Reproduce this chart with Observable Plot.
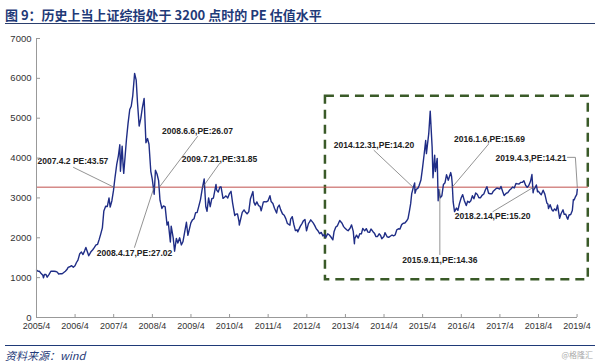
<!DOCTYPE html>
<html><head><meta charset="utf-8">
<script src="https://cdn.jsdelivr.net/npm/d3@7"></script>
<script src="https://cdn.jsdelivr.net/npm/@observablehq/plot@0.6"></script>
<style>
body{margin:0;background:#fff;width:600px;height:364px;overflow:hidden}
#title{font:bold 13px "Noto Sans CJK SC",sans-serif;color:#1f3a78;margin:0 5px;padding-top:7px;height:16px;line-height:16px;border-bottom:1.5px solid #2b3f6e}
#chart{margin-top:3px;height:314px}
#foot{margin:4px 5px 0;border-top:1.5px solid #1f3a78;position:relative;height:18px}
#src{position:absolute;left:0;top:2px;font:italic 11px "Noto Sans CJK SC",sans-serif;color:#1f3a78;line-height:14px}
#wm{position:absolute;right:2px;top:4px;font:8px "Noto Sans CJK SC",sans-serif;color:#aaa;line-height:10px}
</style></head>
<body>
<div id="title">图 9：历史上当上证综指处于 3200 点时的 PE 估值水平</div>
<div id="chart"></div>
<div id="foot"><span id="src">资料来源：wind</span><span id="wm">@格隆汇</span></div>
<script>
const dates = [
"2005-04-01","2005-04-15","2005-04-29","2005-05-13","2005-05-31","2005-06-06","2005-06-15","2005-06-30","2005-07-11","2005-07-29","2005-08-15","2005-08-31","2005-09-15","2005-09-30","2005-10-14","2005-10-28","2005-11-15","2005-11-30","2005-12-15","2005-12-30",
"2006-01-16","2006-01-25","2006-02-15","2006-02-28","2006-03-15","2006-03-31","2006-04-14","2006-04-28","2006-05-15","2006-05-31","2006-06-15","2006-06-30","2006-07-12","2006-07-31","2006-08-08","2006-08-31","2006-09-15","2006-09-29","2006-10-16","2006-10-31","2006-11-15","2006-11-30","2006-12-15","2006-12-29",
"2007-01-15","2007-01-31","2007-02-16","2007-02-27","2007-03-15","2007-03-30","2007-04-13","2007-04-30","2007-05-15","2007-05-29","2007-06-04","2007-06-20","2007-06-29","2007-07-05","2007-07-31","2007-08-15","2007-08-31","2007-09-14","2007-09-28","2007-10-16","2007-10-31","2007-11-12","2007-11-28","2007-12-14","2007-12-28",
"2008-01-14","2008-01-31","2008-02-15","2008-02-29","2008-03-17","2008-03-31","2008-04-18","2008-04-30","2008-05-15","2008-05-30","2008-06-12","2008-06-30","2008-07-15","2008-07-31","2008-08-18","2008-08-29","2008-09-18","2008-09-26","2008-10-15","2008-10-28","2008-11-14","2008-11-28","2008-12-15","2008-12-31",
"2009-01-15","2009-02-17","2009-03-03","2009-03-31","2009-04-15","2009-04-30","2009-05-15","2009-05-29","2009-06-15","2009-06-30","2009-07-15","2009-08-04","2009-08-19","2009-08-31","2009-09-15","2009-09-30","2009-10-15","2009-10-30","2009-11-24","2009-11-30","2009-12-15","2009-12-31",
"2010-01-11","2010-01-29","2010-02-12","2010-02-26","2010-03-15","2010-03-31","2010-04-15","2010-04-30","2010-05-20","2010-05-31","2010-06-15","2010-06-30","2010-07-02","2010-07-30","2010-08-16","2010-08-31","2010-09-15","2010-09-30","2010-10-15","2010-11-08","2010-11-17","2010-11-30","2010-12-15","2010-12-31",
"2011-01-14","2011-01-25","2011-02-15","2011-02-28","2011-03-15","2011-03-31","2011-04-18","2011-04-29","2011-05-16","2011-05-31","2011-06-20","2011-06-30","2011-07-15","2011-07-29","2011-08-15","2011-08-31","2011-09-15","2011-09-30","2011-10-24","2011-10-31","2011-11-15","2011-11-30","2011-12-15","2011-12-30",
"2012-01-06","2012-01-31","2012-02-15","2012-02-29","2012-03-14","2012-03-29","2012-04-16","2012-04-27","2012-05-08","2012-05-31","2012-06-15","2012-06-29","2012-07-13","2012-07-31","2012-08-15","2012-08-31","2012-09-14","2012-09-26","2012-10-15","2012-10-31","2012-11-15","2012-12-03","2012-12-14","2012-12-31",
"2013-01-15","2013-02-06","2013-02-28","2013-03-15","2013-03-29","2013-04-15","2013-04-26","2013-05-15","2013-05-29","2013-06-14","2013-06-25","2013-06-28","2013-07-15","2013-07-31","2013-08-15","2013-08-30","2013-09-12","2013-09-30","2013-10-15","2013-10-31","2013-11-15","2013-11-29","2013-12-16","2013-12-31",
"2014-01-15","2014-01-30","2014-02-14","2014-02-28","2014-03-11","2014-03-31","2014-04-10","2014-04-30","2014-05-15","2014-05-30","2014-06-16","2014-06-30","2014-07-15","2014-07-31","2014-08-15","2014-08-29","2014-09-15","2014-09-30","2014-10-15","2014-10-31","2014-11-14","2014-11-28","2014-12-09","2014-12-19","2014-12-31",
"2015-01-16","2015-01-19","2015-01-30","2015-02-16","2015-02-27","2015-03-16","2015-03-31","2015-04-15","2015-04-30","2015-05-07","2015-05-29","2015-06-12","2015-06-30","2015-07-08","2015-07-24","2015-07-31","2015-08-17","2015-08-26","2015-08-31","2015-09-15","2015-09-30","2015-10-15","2015-10-30","2015-11-13","2015-11-30","2015-12-23","2015-12-31",
"2016-01-06","2016-01-15","2016-01-28","2016-02-15","2016-02-29","2016-03-15","2016-03-31","2016-04-14","2016-04-29","2016-05-18","2016-05-31","2016-06-15","2016-06-30","2016-07-15","2016-07-29","2016-08-15","2016-08-31","2016-09-14","2016-09-30","2016-10-14","2016-10-31","2016-11-15","2016-11-29","2016-12-15","2016-12-30",
"2017-01-16","2017-01-26","2017-02-15","2017-02-28","2017-03-15","2017-03-31","2017-04-11","2017-04-28","2017-05-11","2017-05-31","2017-06-15","2017-06-30","2017-07-14","2017-07-31","2017-08-15","2017-08-31","2017-09-15","2017-09-29","2017-10-16","2017-10-31","2017-11-14","2017-11-30","2017-12-15","2017-12-29",
"2018-01-15","2018-01-29","2018-02-09","2018-02-14","2018-02-28","2018-03-12","2018-03-23","2018-03-30","2018-04-16","2018-04-27","2018-05-15","2018-05-31","2018-06-19","2018-06-29","2018-07-05","2018-07-20","2018-08-06","2018-08-17","2018-08-31","2018-09-14","2018-09-28","2018-10-18","2018-10-31","2018-11-19","2018-11-30","2018-12-14","2018-12-28",
"2019-01-03","2019-01-15","2019-01-31","2019-02-15","2019-02-25","2019-02-28","2019-03-08","2019-03-15","2019-03-29","2019-04-03"
];
const closes = [
1190,1160,1159,1110,1060,998,1080,1080,1011,1083,1160,1162,1160,1155,1140,1092,1100,1099,1130,1161,
1210,1258,1280,1299,1260,1298,1380,1440,1600,1641,1580,1672,1757,1612,1550,1658,1700,1752,1820,1837,1960,2099,2250,2675,
2790,2786,2998,2771,2930,3183,3500,3841,4050,4334,3670,4300,3820,3615,4471,4870,5218,5300,5552,6124,5954,5400,4803,5000,5262,
5497,4383,4490,4348,3668,3473,3094,3693,3600,3433,2943,2736,2800,2776,2319,2397,1895,2293,1995,1664,1986,1871,2000,1821,
1900,2389,2060,2373,2450,2477,2630,2632,2800,2959,3200,3478,2785,2667,3000,2779,2980,2996,3338,3195,3150,3277,
3273,2989,3018,3051,3000,3109,3166,2870,2560,2592,2600,2398,2320,2638,2700,2638,2600,2655,2971,3159,2894,2820,2900,2808,
2790,2677,2900,2905,2900,2928,3057,2911,2860,2743,2621,2762,2820,2701,2600,2567,2480,2359,2317,2469,2530,2333,2180,2199,
2148,2292,2357,2429,2460,2174,2357,2397,2450,2373,2306,2225,2185,2103,2135,2047,2083,2004,2100,2069,2020,1949,2150,2269,
2300,2434,2366,2280,2237,2195,2178,2240,2324,2162,1849,1979,2066,1994,2100,2098,2237,2175,2230,2142,2135,2220,2160,2116,
2030,2033,2100,2056,1975,2033,2130,2026,2010,2039,2070,2048,2070,2202,2226,2217,2330,2364,2370,2420,2478,2683,2856,3108,3235,
3376,3116,3210,3247,3310,3449,3748,4084,4442,4112,4612,5178,4277,3507,4070,3664,3993,2927,3206,3005,3053,3338,3383,3580,3445,3636,3539,
3361,2900,2656,2746,2688,2864,3004,3082,2938,2807,2917,2887,2930,3054,2979,3125,3085,3003,3005,3064,3100,3206,3282,3117,3104,
3103,3159,3213,3242,3241,3223,3289,3155,3061,3117,3132,3192,3222,3273,3251,3361,3354,3349,3391,3393,3430,3317,3266,3307,
3410,3587,3129,3199,3259,3326,3153,3169,3110,3082,3193,3095,2875,2847,2733,2829,2705,2669,2725,2682,2821,2486,2603,2703,2588,2594,2494,
2464,2571,2585,2682,2961,2941,2970,3022,3091,3216
];
const yTicks = [0,1000,2000,3000,4000,5000,6000,7000];
const xTickLabels = ["2005/4","2006/4","2007/4","2008/4","2009/4","2010/4","2011/4","2012/4","2013/4","2014/4","2015/4","2016/4","2017/4","2018/4","2019/4"];
const refLevel = 3270;
// annotation labels: text anchor point and leader path (data coordinates)
const annoLabels = ["2007.4.2 PE:43.57","2008.4.17,PE:27.02","2008.6.6,PE:26.07","2009.7.21,PE:31.85","2014.12.31,PE:14.20","2015.9.11,PE:14.36","2016.1.6,PE:15.69","2019.4.3,PE:14.21","2018.2.14,PE:15.20"];
const annoTextAt = [["2005-04-10",3917,"start"],["2007-10-15",1600,"middle"],["2009-06-01",4673,"middle"],["2009-12-27",3967,"middle"],["2013-12-27",4320,"middle"],["2015-09-11",1448,"middle"],["2016-12-24",4471,"middle"],["2018-12-22",3992,"end"],["2017-01-22",2532,"middle"]];
const annoLeaders = [
 [["2006-03-17",3766],["2007-04-02",refLevel]],
 [["2007-10-15",1760],["2008-04-17",refLevel]],
 [["2009-06-01",4540],["2008-06-06",refLevel]],
 [["2009-12-28",3866],["2009-07-21",refLevel]],
 [["2013-12-27",4194],["2014-12-31",refLevel]],
 [["2015-09-11",1580],["2015-09-11",3220]],
 [["2016-12-13",4345],["2016-01-06",refLevel]],
 [["2018-12-31",4018],["2019-03-16",4018],["2019-04-03",refLevel]],
 [["2017-01-25",2657],["2018-02-14",refLevel]]
];
const boxCorners = {from:"2012-09-24", to:"2019-07-16", low:945, high:5554};

const parse = d3.utcParse("%Y-%m-%d");
const parseTick = d3.utcParse("%Y/%m");
const series = dates.map((d,i)=>({date:parse(d), close:closes[i]}));
const xTicks = xTickLabels.map(parseTick);
const x0 = parse("2005-04-01"), x1 = parse("2019-04-05");
const texts = annoLabels.map((t,i)=>({label:t, x:parse(annoTextAt[i][0]), y:annoTextAt[i][1], anchor:annoTextAt[i][2]}));
const leaders = annoLeaders.flatMap((p,i)=>p.map(([d,v])=>({id:i, x:parse(d), y:v})));
const box = [{x1:parse(boxCorners.from), x2:parse(boxCorners.to), y1:boxCorners.low, y2:boxCorners.high}];
const ref = [{y:refLevel, x1:x0, x2:parse(boxCorners.to)}];
const labelStyle = {fontSize:8.5, fontWeight:"bold", fill:"#222"};

const chart = Plot.plot({
  width:600, height:314, marginLeft:36, marginRight:23, marginTop:11, marginBottom:24,
  style:{fontFamily:"'Liberation Sans', Arial, sans-serif", background:"white"},
  x:{type:"utc", domain:[x0,x1]},
  y:{domain:[0,7000]},
  marks:[
    Plot.rect(box, {x1:"x1", x2:"x2", y1:"y1", y2:"y2", fill:"none", stroke:"#3a5a28", strokeWidth:2.5, strokeDasharray:"9,6"}),
    Plot.ruleY(ref, {y:"y", x1:"x1", x2:"x2", stroke:"#c0504d", strokeWidth:1}),
    Plot.line(series, {x:"date", y:"close", stroke:"#1f2d86", strokeWidth:1.4}),
    Plot.line(leaders, {x:"x", y:"y", z:"id", stroke:"#777", strokeWidth:0.8}),
    Plot.text(texts.filter(d=>d.anchor==="start"), {x:"x", y:"y", text:"label", textAnchor:"start", ...labelStyle}),
    Plot.text(texts.filter(d=>d.anchor==="middle"), {x:"x", y:"y", text:"label", textAnchor:"middle", ...labelStyle}),
    Plot.text(texts.filter(d=>d.anchor==="end"), {x:"x", y:"y", text:"label", textAnchor:"end", ...labelStyle}),
    Plot.ruleX([x0], {y1:0, y2:7000, stroke:"#999"}),
    Plot.ruleY([0], {x1:x0, x2:x1, stroke:"#999"}),
    Plot.axisY({ticks:yTicks, tickSize:-4, tickPadding:9, fontSize:9.5, fill:"#333", stroke:"#999", tickFormat:d=>String(d)}),
    Plot.axisX({ticks:xTicks, tickSize:-3, tickPadding:8.5, fontSize:9, fill:"#333", stroke:"#999", tickFormat:(d,i)=>xTickLabels[i]})
  ]
});
document.getElementById("chart").append(chart);
</script>
</body></html>
